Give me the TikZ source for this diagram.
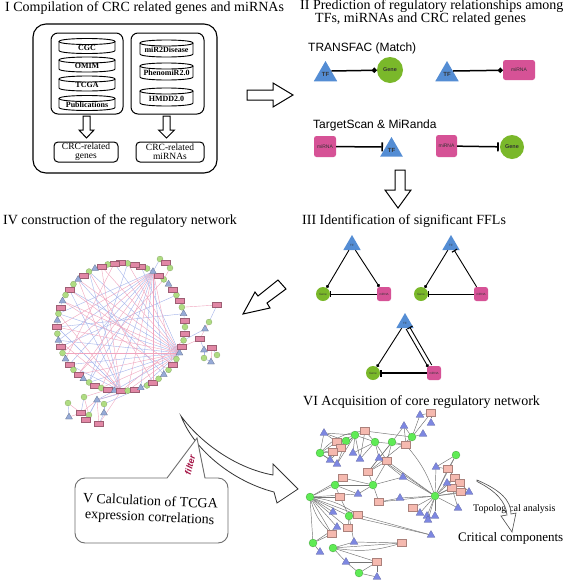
\documentclass[tikz,border=0pt]{standalone}
\usepackage{fontspec}
\setmainfont{Liberation Serif}
\newfontfamily\arialf{Liberation Sans}
\usetikzlibrary{shapes.geometric,arrows.meta,backgrounds,calc}
\definecolor{tfblue}{RGB}{84,141,212}
\definecolor{genegreen}{RGB}{122,184,42}
\definecolor{mirpink}{RGB}{214,82,150}
\definecolor{rgreen}{RGB}{175,220,130}
\definecolor{rpink}{RGB}{225,135,165}
\definecolor{rblue}{RGB}{150,170,215}
\definecolor{eblue}{RGB}{165,180,235}
\definecolor{epink}{RGB}{240,165,190}
\definecolor{cgreen}{RGB}{95,235,85}
\definecolor{cpink}{RGB}{245,185,175}
\definecolor{cblue}{RGB}{125,135,225}
\definecolor{filterred}{RGB}{165,20,70}
\definecolor{callgray}{RGB}{110,110,110}
\definecolor{cedge}{RGB}{115,115,115}

\newcommand{\dbcyl}[6]{%
  \draw[cyl] ({#2-#4/2},{#3-#5/2+3}) -- ({#2-#4/2},{#3+#5/2-3}) .. controls ({#2-#4/2},{#3+#5/2+1}) and ({#2+#4/2},{#3+#5/2+1}) .. ({#2+#4/2},{#3+#5/2-3}) -- ({#2+#4/2},{#3-#5/2+3});
  \draw[cyl] ({#2-#4/2},{#3-#5/2+3}) .. controls ({#2-#4/2},{#3-#5/2-1}) and ({#2+#4/2},{#3-#5/2-1}) .. ({#2+#4/2},{#3-#5/2+3}) .. controls ({#2+#4/2},{#3-#5/2+7}) and ({#2-#4/2},{#3-#5/2+7}) .. cycle;
  \node[dbtext] (#1) at (#2,{#3+1.5}) {#6};
}

\begin{document}
\begin{tikzpicture}[x=1pt,y=-1pt,
  title/.style={anchor=west, font=\fontsize{14}{16}\selectfont, inner sep=0},
  sanstitle/.style={anchor=west, font=\arialf\fontsize{12}{14}\selectfont, inner sep=0},
  dbtext/.style={font=\bfseries\fontsize{8}{9}\selectfont, inner sep=0},
  crcbox/.style={draw, line width=1pt, rounded corners=4, font=\fontsize{9.5}{9}\selectfont, align=center, inner sep=0},
  cyl/.style={line width=0.9pt},
  ibox/.style={draw, line width=1pt, rounded corners=7},
  hollow/.style={draw, line width=1pt, fill=white, line join=miter},
  tfn/.style={regular polygon, regular polygon sides=3, fill=tfblue, inner sep=0, font=\arialf\bfseries\fontsize{6}{6}\selectfont, text=black!80},
  genen/.style={circle, fill=genegreen, inner sep=0, font=\arialf\bfseries\fontsize{5.5}{6}\selectfont, text=black!80},
  mirn/.style={rectangle, rounded corners=2.5, fill=mirpink, inner sep=0, font=\arialf\fontsize{5}{6}\selectfont, text=black!80},
  reg/.style={line width=1.5pt, -{Circle[length=5pt]}},
  inh/.style={line width=1.5pt, -{Bar[width=9pt,line width=1.7pt]}},
  freg/.style={line width=0.9pt, -{Circle[length=3.2pt]}},
  finh/.style={line width=0.9pt, -{Bar[width=6pt,line width=1.1pt]}},
  ftiny/.style={font=\arialf\fontsize{3}{3}\selectfont},
  ringg/.style={circle, fill=rgreen, draw=rgreen!70!black, line width=0.2pt, minimum size=6, inner sep=0},
  ringp/.style={rectangle, fill=rpink, draw=rpink!70!black, line width=0.2pt, minimum width=9, minimum height=5, inner sep=0},
  ringb/.style={regular polygon, regular polygon sides=3, fill=rblue, draw=rblue!60!black, line width=0.2pt, minimum size=8, inner sep=0},
  eb/.style={eblue, line width=0.4pt},
  ep/.style={epink, line width=0.4pt},
  cg/.style={circle, fill=cgreen, draw=cgreen!60!black, line width=0.2pt, minimum size=8, inner sep=0},
  cp/.style={rectangle, fill=cpink, draw=cpink!70!black, line width=0.2pt, minimum width=9, minimum height=7, inner sep=0},
  cb/.style={regular polygon, regular polygon sides=3, fill=cblue, draw=cblue!70!black, line width=0.2pt, minimum size=9, inner sep=0},
  ce/.style={cedge, line width=0.45pt},
  callout/.style={draw=callgray, line width=0.9pt, fill=white},
  bigarrow/.style={draw=black!80, line width=0.8pt, fill=white, line join=miter}
]
\useasboundingbox (0,0) rectangle (567,582);
\begin{scope}[on background layer]
  \fill[white] (0,0) rectangle (567,582);
\end{scope}

% ---------------- Part I ----------------
\node[title] (t1) at (5,8) {I Compilation of CRC related genes and miRNAs};
\draw[line width=1.1pt, rounded corners=13] (33,24) rectangle (217,173);
\draw[ibox] (51,33) rectangle (123,114);
\draw[ibox] (131,33) rectangle (204,114);
\dbcyl{cgc}{87}{46}{56}{15}{CGC}
\dbcyl{omim}{87}{64.5}{56}{15}{OMIM}
\dbcyl{tcga}{87}{83.5}{56}{15}{TCGA}
\dbcyl{pub}{87}{103}{56}{15}{Publications}
\dbcyl{m2d}{166.5}{48.5}{53}{17}{miR2Disease}
\dbcyl{phen}{166.5}{71.5}{53}{17}{PhenomiR2.0}
\dbcyl{hmdd}{166.5}{97}{53}{18}{HMDD2.0}
\draw[hollow] (83,116) -- (90,116) -- (90,130) -- (94,130) -- (86.5,138) -- (79,130) -- (83,130) -- cycle;
\draw[hollow] (163,116) -- (170,116) -- (170,130) -- (174.5,130) -- (166.5,138) -- (158.5,130) -- (163,130) -- cycle;
\node[crcbox, minimum width=64, minimum height=20] (crcg) at (86,152) {CRC-related\\genes};
\node[crcbox, minimum width=68, minimum height=20] (crcm) at (170,152) {CRC-related\\miRNAs};
% arrow I -> II
\draw[hollow] (247,90) -- (273,90) -- (273,83) -- (293,95) -- (273,107) -- (273,100) -- (247,100) -- cycle;

% ---------------- Part II ----------------
\node[title] (t2a) at (300,6) {II Prediction of regulatory relationships among};
\node[title] (t2b) at (315,19) {TFs, miRNAs and CRC related genes};
\node[sanstitle] (tfac) at (308,48) {TRANSFAC (Match)};
\node[sanstitle] (tscan) at (313,125) {TargetScan \& MiRanda};

\node[tfn, minimum size=27] (tf1) at (325.5,74.5) {TF};
\node[genen, minimum size=26] (gene1) at (390,70) {Gene};
\node[tfn, minimum size=27] (tf2) at (447,74.5) {TF};
\node[mirn, minimum width=32, minimum height=20] (mir0) at (519,70) {miRNA};
\draw[reg] ([shift={(6,-3.5)}]tf1.center) -- (gene1);
\draw[reg] ([shift={(6,-3.5)}]tf2.center) -- (mir0);

\node[mirn, minimum width=22, minimum height=21] (mir1) at (325,146.5) {miRNA};
\node[tfn, minimum size=26] (tf3) at (391.5,150) {TF};
\node[mirn, minimum width=21, minimum height=22] (mir2) at (446.5,146) {miRNA};
\node[genen, minimum size=24] (gene2) at (512,147) {Gene};
\draw[inh, shorten >=2.5pt] (mir1) -- ([shift={(-6,-3)}]tf3.center);
\draw[inh, shorten >=1pt] (mir2) -- (gene2);
% arrow II -> III
\draw[hollow] (395,170) -- (405,170) -- (405,190) -- (411,190) -- (398,208) -- (385,190) -- (395,190) -- cycle;

% ---------------- Part III ----------------
\node[title] (t3) at (302,221) {III Identification of significant FFLs};
\node[tfn, minimum size=20, ftiny] (ft1) at (352,245) {TF};
\node[genen, minimum size=14, ftiny] (fg1) at (323,294) {Gene};
\node[mirn, minimum size=14, ftiny] (fm1) at (384,294) {miRNA};
\draw[freg] (ft1) -- (fg1);
\draw[freg] (ft1) -- (fm1);
\draw[finh] (fm1) -- (fg1);

\node[tfn, minimum size=20, ftiny] (ft2) at (451,245) {TF};
\node[genen, minimum size=14, ftiny] (fg2) at (421,294) {Gene};
\node[mirn, minimum size=14, ftiny] (fm2) at (481,294) {miRNA};
\draw[freg] (ft2) -- (fg2);
\draw[finh] (fm2) -- (ft2);
\draw[finh] (fm2) -- (fg2);

\node[tfn, minimum size=20, ftiny] (ft3) at (405,323) {TF};
\node[genen, minimum size=14, ftiny] (fg3) at (373,373) {Gene};
\node[mirn, minimum size=14, ftiny] (fm3) at (434,373) {miRNA};
\draw[freg] (ft3) -- (fg3);
\coordinate (dA1) at ($(ft3)!0.1!(fm3)+(-1.8,1)$);
\coordinate (dA2) at ($(ft3)!0.86!(fm3)+(-1.8,1)$);
\coordinate (dB1) at ($(ft3)!0.86!(fm3)+(1.8,-1)$);
\coordinate (dB2) at ($(ft3)!0.1!(fm3)+(1.8,-1)$);
\draw[freg] (dA1) -- (dA2);
\draw[finh] (dB1) -- (dB2);
\draw[line width=1.8pt, -{Bar[width=7pt,line width=1.4pt]}] (fm3) -- (fg3);

% arrow III -> IV
\draw[hollow] (278,280) -- (286,289) -- (267,303) -- (270,308) -- (243,314) -- (255,292) -- (258,296) -- cycle;

% ---------------- Part IV ----------------
\node[title] (t4) at (3,221) {IV construction of the regulatory network};
\foreach \t [count=\i from 0] in {g,p,b,g,p,g,p,b,g,p,b,g,p,p,g,p,p,g,p,b,g,p,b,g,p,g,b,p,g,b,p,g,b,p,g,b,p,g,p,b,g,p,g,p,b,p,g,p,b,g,p,g,b,g,p,g,b,p,g,p}{
  \node[ring\t] (n\i) at ({121+64*cos(\i*6)},{327-64*sin(\i*6)}) {};
}
\node[ringg] (x1) at (160,259) {};
\node[ringp] (x2) at (166,263) {};
\node[ringg] (x3) at (170,268) {};
\node[ringp] (r1) at (217,305) {};
\node[ringg] (r2) at (209,322) {};
\node[ringb] (r3) at (205,329) {};
\node[ringp] (r4) at (200,339) {};
\node[ringb] (r5) at (204,350) {};
\node[ringp] (r6) at (212,348) {};
\node[ringg] (r7) at (217,355) {};
\node[ringb] (r8) at (211,362) {};
\node[ringg] (r9) at (204,358) {};
\node[ringg] (q1) at (68,403) {};
\node[ringg] (q2) at (84,397) {};
\node[ringb] (q3) at (97,400) {};
\node[ringg] (q4) at (104,404) {};
\node[ringp] (q5) at (81,413) {};
\node[ringg] (q6) at (89,415) {};
\node[ringp] (q7) at (86,420) {};
\node[ringb] (q8) at (69,417) {};
\node[ringb] (q9) at (104,413) {};
\node[ringp] (q10) at (99,424) {};
\begin{scope}[on background layer]
  \foreach \i in {0,...,59}{
    \pgfmathtruncatemacro\nx{mod(\i+1,60)}
    \draw[eb] (n\i) -- (n\nx);
  }
  \foreach \a/\b in {56/12,56/16,56/20,56/24,56/28,56/32,56/36,56/40,56/44,56/48,10/28,10/32,10/36,10/40,10/44,10/48,10/52,45/20,45/24,45/30,45/36,14/40,22/52,30/2,5/33}
    \draw[eb] (n\a) -- (n\b);
  \foreach \a/\b in {56/14,56/18,56/22,56/26,56/30,56/34,56/38,56/42,56/46,10/30,10/34,10/38,10/42,10/46,10/50,10/54,45/18,45/22,45/28,45/32,45/58,16/35,20/50,24/54,26/53,8/38}
    \draw[ep] (n\a) -- (n\b);
  \draw[eb] (n10) -- (x1); \draw[ep] (x1) -- (x2); \draw[eb] (x2) -- (x3); \draw[ep] (x3) -- (n8);
  \draw[ep] (n3) -- (r1); \draw[eb] (r1) -- (r2); \draw[ep] (r2) -- (r3); \draw[eb] (r3) -- (n58);
  \draw[ep] (r4) -- (r3); \draw[eb] (r4) -- (r5); \draw[ep] (r5) -- (r6); \draw[eb] (r6) -- (r7);
  \draw[ep] (r6) -- (r8); \draw[eb] (r8) -- (r9); \draw[eb] (r5) -- (r9); \draw[ep] (r4) -- (n57);
  \draw[eb] (q3) -- (n44); \draw[ep] (q3) -- (n46); \draw[eb] (q3) -- (n48); \draw[ep] (q2) -- (n43);
  \draw[ep] (q5) -- (q1); \draw[eb] (q5) -- (q2); \draw[ep] (q5) -- (q3); \draw[eb] (q7) -- (q3);
  \draw[ep] (q10) -- (q3); \draw[eb] (q10) -- (q9); \draw[eb] (q9) -- (q4); \draw[ep] (q8) -- (q5);
  \draw[eb] (q6) -- (q3); \draw[ep] (q10) -- (n45); \draw[eb] (q4) -- (n50); \draw[ep] (q7) -- (q6);
  \draw[eb] (q1) -- (q8); \draw[ep] (q2) -- (q6);
\end{scope}

% ---------------- Part V ----------------
\draw[bigarrow] (181,416) .. controls (200,442) and (235,468) .. (273,475) -- (273,464) -- (298,489) -- (277,503) -- (274,492) .. controls (235,482) and (195,452) .. (181,416) -- cycle;
\draw[callout] (75,510) [rounded corners=10] -- (75,478) [sharp corners] -- (167,478) -- (197,438) -- (205,478) [rounded corners=10] -- (228,478) -- (228,543) -- (75,543) -- cycle;
\node[font=\arialf\bfseries\itshape\fontsize{9}{9}\selectfont, text=filterred, rotate=75, inner sep=0] (filt) at (190,465) {filter};
\node[align=center, font=\fontsize{14}{16}\selectfont, rotate=-2.5, inner sep=0] (v) at (150,510) {V Calculation of TCGA\\expression correlations};

% ---------------- Part VI ----------------
\node[title] (t6) at (303,402) {VI Acquisition of core regulatory network};
\foreach \n/\x/\y in {G1/320/453,G2/355/435,G3/375/442,G4/392/442,G5/412/437,G6/456/455,G7/335/485,G8/373/485,G9/310/497,G10/435/496,G11/349/516,G12/313/543,G13/333/548,G14/359/573,G15/346/441}
  \node[cg] (\n) at (\x,\y) {};
\foreach \n/\x/\y in {P1/365/431,P2/337/442,P3/341/448,P4/333/452,P5/431/413,P6/406/445,P7/387/461,P8/368/472,P9/343/478,P10/340/497,P11/379/502,P12/413/508,P13/448/469,P14/455/478,P15/460/483,P16/452/488,P17/461/492,P18/358/515,P19/348/528,P20/332/534,P21/402/543,P22/377/562}
  \node[cp] (\n) at (\x,\y) {};
\foreach \n/\x/\y in {B1/324/433,B2/420/415,B3/431/423,B4/404/426,B5/423/434,B6/330/460,B7/337/464,B8/353/453,B9/360/459,B10/379/458,B11/403/477,B12/436/467,B13/447/483,B14/469/492,B15/458/508,B16/358/494,B17/400/498,B18/333/512,B19/420/513,B20/427/516,B21/435/516,B22/428/520,B23/337/527,B24/354/542,B25/431/535,B26/320/552,B27/346/562,B28/377/577}
  \node[cb] (\n) at (\x,\y) {};
\begin{scope}[on background layer]
  \foreach \a/\b in {G1/P2,G1/P4,G1/B1,G1/B6,G1/P3,G1/B7,G2/P1,G2/P2,G2/B8,G2/B9,G2/P3,G2/B6,G2/B7,G15/P2,G15/B7,G15/P4,G15/B1,G3/P1,G3/B8,G3/B9,B1/P2,B1/G2,P1/B9,G3/P7,G4/P7,G4/B10,G4/P6,G5/P6,G5/B4,G5/B2,G5/P5,G5/B5,P5/B2,P5/B3,P6/B4,P6/G3,P7/P8,P8/B10,P8/G4,G5/P8,G4/B4,G3/B10,P4/B6,G10/B11,G10/P11,G10/B17,G10/P12,G10/B12,G10/B13,G10/P13,G10/P14,G10/P15,G10/P16,G10/P17,G10/B14,G10/B15,G10/B19,G10/B20,G10/B21,G10/B22,G10/P7,G10/G6,G6/P13,G6/B12,P13/B12,P14/B13,P15/B14,P16/B15,P17/B14,P13/P14,P15/P16,B10/G10,G8/P8,G8/P11,G8/B16,G8/P7,P11/B17,B11/B10,G8/B11,P12/B19,G9/P9,G9/G7,G9/P10,G9/P18,G9/P19,G9/B18,G9/P20,G9/B23,G9/G11,G7/P9,G7/P10,G7/B16,P9/G8,G9/B16,G7/G8,G11/P18,G11/B25,P18/B25,G11/P19,G11/B24,G12/P20,G12/B26,G12/B23,G13/P21,G13/B27,G13/P22,G13/B24,P22/B27,P22/G14,P22/B28,G14/B28,G14/B27,P21/B24,G11/P10,G12/G9,G2/G3,P1/G5}
    \draw[ce] (\a) -- (\b);
  \draw[ce] (G9) to[bend right=15] (P20);
  \draw[ce] (G9) to[bend left=12] (P18);
  \draw[ce] (G1) to[bend left=20] (P1);
  \draw[ce] (G10) to[bend right=10] (P6);
  \draw[ce] (G13) to[bend right=12] (P21);
\end{scope}
\node[font=\fontsize{10}{11}\selectfont, anchor=west, inner sep=0] (topo) at (473,509) {Topological analysis};
\node[font=\fontsize{13}{14}\selectfont, anchor=west, inner sep=0] (crit) at (458,538) {Critical components};
\draw[draw=black!70, line width=0.6pt, fill=white] (477,480) .. controls (500,490) and (511,500) .. (511,514) -- (516,513) -- (512,532) -- (501,516) -- (507,515) .. controls (506,502) and (496,491) .. (477,481.5) -- cycle;
\end{tikzpicture}
\end{document}
